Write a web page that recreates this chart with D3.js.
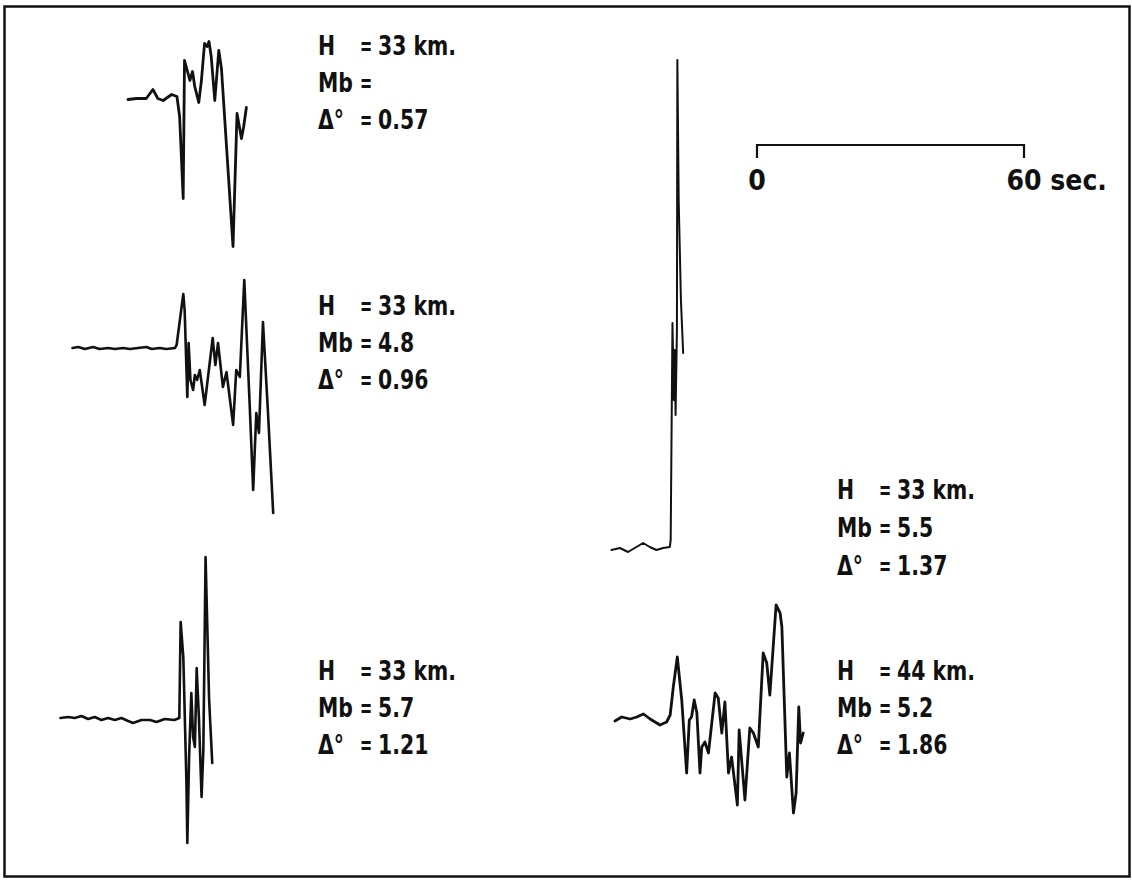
<!DOCTYPE html>
<html>
<head>
    <title>Seismograms</title>
    <style>
        body { margin: 0; background: #fff; }
        text {
            font-family: "DejaVu Sans Condensed", "DejaVu Sans", sans-serif;
            font-weight: bold;
            fill: #111;
        }
    </style>
    <script src="https://d3js.org/d3.v7.min.js"></script>
</head>
<body>
<svg id="chart"></svg>
<script>
    // Time (sec from trace start) and amplitude (record units)
    const trace1T = [0, 1.9, 4.1, 5.6, 6.7, 7.9, 9.8, 11.0, 11.6, 12.4, 12.7, 13.5, 13.9, 14.5, 15.0, 15.9, 16.5, 17.2, 17.8, 18.2, 18.7, 19.5, 20.4, 21.0, 23.6, 24.5, 25.5, 26.0, 26.6];
    const trace1A = [-1, 0, 0, 9, 0, -2, 4, 2, -18, -100, 38, 25, 18, 27, 12, -4, 18, 55, 52, 57, 42, -2, 48, 30, -148, -15, -40, -28, -9];

    const trace2T = [0, 1.3, 2.8, 4.6, 6.1, 8.0, 9.5, 11.4, 12.9, 14.7, 16.6, 17.8, 19.6, 21.1, 23.0, 23.4, 24.9, 25.2, 25.8, 26.1, 26.5, 27.1, 27.5, 28.0, 28.6, 29.7, 31.5, 32.1, 32.7, 33.8, 34.6, 36.1, 36.8, 37.6, 38.6, 39.8, 40.6, 41.3, 41.9, 42.8, 43.9, 45.1];
    const trace2A = [0, 1, -1, 1, -1, 0, -1, 0, -1, 0, 1, -1, 0, -1, 0, 3, 54, 38, -49, 5, -32, -42, -27, -32, -22, -57, 10, -17, 5, -39, -24, -77, -22, -29, 68, -55, -142, -65, -85, 26, -62, -165];

    const trace3T = [0, 1.7, 3.2, 4.7, 6.2, 7.7, 9.2, 10.7, 12.2, 13.7, 15.2, 16.3, 18.2, 20.1, 21.6, 23.4, 25.6, 26.7, 27.0, 27.6, 28.3, 28.5, 28.9, 29.4, 29.8, 30.2, 30.6, 31.1, 31.7, 32.1, 32.6, 33.4, 34.1];
    const trace3A = [1, 2, 1, 3, 0, 2, -1, 1, -1, 1, -2, -4, -1, -1, -3, 0, -1, 1, 97, 62, -64, -124, -38, 26, -18, -28, 51, 2, -78, -31, 162, 19, -44];

    const trace4T = [0, 1.9, 3.7, 5.6, 7.1, 8.6, 10.1, 11.6, 13.1, 13.3, 13.7, 14.0, 14.2, 14.4, 14.7, 14.8, 15.1, 15.6, 16.1];
    const trace4A = [-2, 0, -4, 1, 5, 1, -2, 0, 1, 8, 225, 148, 198, 133, 218, 488, 348, 248, 195];

    const trace5T = [0, 1.5, 3.4, 4.9, 6.4, 7.9, 10.1, 11.6, 12.4, 13.1, 14.0, 15.0, 16.1, 16.7, 17.2, 17.8, 18.4, 19.1, 19.5, 20.2, 21.0, 22.5, 23.2, 24.0, 24.7, 25.5, 26.2, 27.5, 27.9, 29.2, 30.3, 31.1, 32.2, 33.3, 34.1, 34.8, 36.2, 37.1, 37.5, 38.6, 39.2, 40.1, 40.7, 41.3, 41.7, 42.3];
    const trace5A = [-1, 3, 1, 3, 6, 1, -5, -2, 5, 33, 63, 20, -53, 0, 3, 20, 7, -53, -27, -22, -33, 27, 22, -13, 18, -53, -37, -85, -10, -80, -8, -13, -27, 67, 57, 25, 115, 107, 93, -57, -33, -93, -73, 13, -23, -13];

    // Event parameters printed next to each trace
    const paramLabels = ["H", "Mb", "Δ°"];
    const depths = ["33 km.", "33 km.", "33 km.", "33 km.", "44 km."];
    const magnitudes = ["", "4.8", "5.7", "5.5", "5.2"];
    const distances = ["0.57", "0.96", "1.21", "1.37", "1.86"];

    // Time scale bar
    const scaleTicks = [0, 60];
    const scaleUnit = "sec.";

    const width = 1132;
    const height = 883;
    const PX_PER_SEC = 267 / 60;

    const svg = d3.select('#chart')
        .attr('width', width)
        .attr('height', height);

    // frame
    svg.append('rect')
        .attr('x', 4.5).attr('y', 6.5)
        .attr('width', 1125).attr('height', 870)
        .attr('fill', 'none')
        .attr('stroke', '#111')
        .attr('stroke-width', 2.5);

    // where each trace sits on the page
    const traces = [
        {t: trace1T, a: trace1A, x0: 128, y0: 98.5, sw: 2.8},
        {t: trace2T, a: trace2A, x0: 72.5, y0: 348, sw: 2.6},
        {t: trace3T, a: trace3A, x0: 60.5, y0: 719, sw: 2.6},
        {t: trace4T, a: trace4A, x0: 611.5, y0: 548, sw: 2},
        {t: trace5T, a: trace5A, x0: 615, y0: 720, sw: 2.8}
    ];

    traces.forEach(tr => {
        const x = d3.scaleLinear().domain([0, 60]).range([tr.x0, tr.x0 + 60 * PX_PER_SEC]);
        const y = d3.scaleLinear().domain([-500, 500]).range([tr.y0 + 500, tr.y0 - 500]);
        const line = d3.line()
            .x(i => x(tr.t[i]))
            .y(i => y(tr.a[i]))
            .curve(d3.curveLinear);
        svg.append('path')
            .attr('d', line(d3.range(tr.t.length)))
            .attr('fill', 'none')
            .attr('stroke', '#111')
            .attr('stroke-width', tr.sw)
            .attr('stroke-linejoin', 'round')
            .attr('stroke-linecap', 'round');
    });

    // parameter blocks: label column, "=" column, value column
    const blocks = [
        {x: 318, y: 55, row: 37},
        {x: 318, y: 315, row: 37},
        {x: 318, y: 680, row: 37},
        {x: 837, y: 499, row: 38},
        {x: 837, y: 680, row: 37}
    ];
    const FONT = 27;
    const SQUEEZE = 0.84;   // lettering on the original is narrower than DejaVu

    const addText = (x, y, str, sq, anchor) => svg.append('text')
        .attr('transform', `translate(${x},${y}) scale(${sq},1)`)
        .attr('font-size', FONT)
        .attr('text-anchor', anchor || 'start')
        .text(str);

    blocks.forEach((b, i) => {
        const values = [depths[i], magnitudes[i], distances[i]];
        paramLabels.forEach((lab, r) => {
            const yy = b.y + r * b.row;
            addText(b.x, yy, lab, SQUEEZE);
            addText(b.x + 48, yy, '=', 0.6, 'middle');   // short typewriter-style equals
            addText(b.x + 60, yy, values[r], SQUEEZE);
        });
    });

    // 60 second scale bar drawn on the same time scale as the traces
    const sx = d3.scaleLinear().domain([0, 60]).range([757, 757 + 60 * PX_PER_SEC]);
    const barY = 145;
    svg.append('path')
        .attr('d', `M${sx(0)},${barY + 13}V${barY}H${sx(60)}V${barY + 13}`)
        .attr('fill', 'none')
        .attr('stroke', '#111')
        .attr('stroke-width', 2.2);

    svg.append('text')
        .attr('x', sx(scaleTicks[0]))
        .attr('y', 190)
        .attr('font-size', 28)
        .attr('text-anchor', 'middle')
        .text(scaleTicks[0]);

    const endLabel = svg.append('text')
        .attr('y', 190)
        .attr('font-size', 28)
        .text(scaleTicks[1] + ' ' + scaleUnit);
    // center the number itself over the tick
    const probe = svg.append('text').attr('font-size', 28).text(scaleTicks[1]);
    const numW = probe.node().getComputedTextLength();
    probe.remove();
    endLabel.attr('x', sx(scaleTicks[1]) - numW / 2);
</script>
</body>
</html>
